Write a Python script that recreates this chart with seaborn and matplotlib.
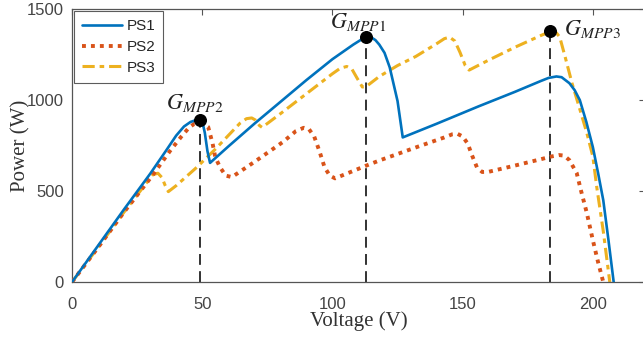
import matplotlib
matplotlib.use('Agg')
import matplotlib.pyplot as plt
import seaborn as sns
import pandas as pd

# PS1 (blue, solid)
ps1_v = [0, 10, 20, 30, 36, 40, 43, 45.5, 48, 50, 51, 52, 53, 60, 70, 80, 90, 100, 108, 111, 113, 115,
         116.5, 118, 120, 122, 125, 127, 140, 156, 170, 180, 183, 186, 188, 191, 193, 195, 197.5, 200,
         202, 204, 206, 208]
ps1_p = [0, 200, 400, 595, 720, 805, 855, 880, 892, 885, 820, 720, 655, 745, 870, 990, 1110, 1225, 1305,
         1332, 1346, 1344, 1330, 1305, 1260, 1180, 995, 795, 870, 965, 1045, 1105, 1122, 1130, 1126,
         1093, 1055, 1000, 880, 742, 600, 450, 230, 0]

# PS2 (red, dotted)
ps2_v = [0, 10, 20, 31, 37.6, 42, 45, 47, 49, 51, 52.3, 54, 55, 56.8, 59, 61.4, 70, 81, 86, 89, 91, 93,
         95, 97, 99, 101, 113, 118, 133, 143, 146, 148, 150, 152, 153.5, 155.5, 157.5, 160, 170, 180,
         184, 187, 189, 191, 193.8, 195.5, 197.7, 200, 202, 204]
ps2_p = [0, 190, 385, 588, 720, 800, 850, 870, 872, 865, 852, 760, 687, 632, 585, 577, 660, 770, 830,
         848, 840, 800, 720, 630, 585, 570, 640, 668, 745, 795, 812, 815, 800, 760, 700, 630, 605, 606,
         640, 675, 690, 698, 695, 670, 599, 500, 379, 230, 110, 0]

# PS3 (yellow, dash-dot)
ps3_v = [0, 10, 20, 31, 33, 34.5, 35.8, 37, 40, 48, 55, 64.5, 67, 69, 70.5, 72, 73, 80, 90, 100, 103,
         105.5, 107.5, 109.5, 111.5, 113, 118, 125, 132, 140, 143, 145, 147, 149, 151, 152.5, 160, 170,
         180, 184, 186, 187.3, 189.5, 192, 195, 197.7, 200, 201.5, 204, 206.5]
ps3_p = [0, 190, 385, 590, 598, 575, 530, 497, 530, 632, 730, 873, 898, 902, 890, 860, 850, 925, 1035,
         1145, 1175, 1185, 1170, 1120, 1072, 1075, 1130, 1190, 1240, 1310, 1338, 1346, 1325, 1262,
         1190, 1165, 1220, 1290, 1355, 1379, 1370, 1346, 1230, 1093, 950, 819, 690, 522, 280, 0]

# global maxima
mpp_names = ['$G_{MPP2}$', '$G_{MPP1}$', '$G_{MPP3}$']
mpp_v = [49, 112.8, 183.5]
mpp_p = [890, 1346, 1379]

x_ticks = [0, 50, 100, 150, 200]
y_ticks = [0, 500, 1000, 1500]

sns.set_theme(style='white')
plt.rcParams['font.family'] = ['Liberation Sans', 'DejaVu Sans']
plt.rcParams['mathtext.fontset'] = 'stix'

fig = plt.figure(figsize=(6.43, 3.39), dpi=100)
ax = fig.add_axes([0.112, 0.168, 0.891, 0.805])

blue = '#0072BD'
red = '#D95319'
yellow = '#EDB120'

df1 = pd.DataFrame({'v': ps1_v, 'p': ps1_p})
df2 = pd.DataFrame({'v': ps2_v, 'p': ps2_p})
df3 = pd.DataFrame({'v': ps3_v, 'p': ps3_p})

# dashed drop lines under the maxima
for v, p in zip(mpp_v, mpp_p):
    ax.plot([v, v], [0, p], color='#222222', lw=1.3, linestyle=(0, (6, 3.5)), zorder=1)

sns.lineplot(data=df1, x='v', y='p', sort=False, estimator=None, ax=ax,
             color=blue, lw=1.9, label='PS1', zorder=4)
sns.lineplot(data=df2, x='v', y='p', sort=False, estimator=None, ax=ax,
             color=red, lw=2.8, linestyle=(0, (1, 1.3)), label='PS2', zorder=3)
sns.lineplot(data=df3, x='v', y='p', sort=False, estimator=None, ax=ax,
             color=yellow, lw=2.2, linestyle=(0, (4, 1.6, 1.5, 1.6)), label='PS3', zorder=2)

ax.scatter(mpp_v, mpp_p, s=70, color='black', zorder=6)

# labels of the maxima
ax.text(mpp_v[0] - 2, mpp_p[0] + 35, mpp_names[0], ha='center', va='bottom', fontsize=16, color='#222222')
ax.text(mpp_v[1] - 3, mpp_p[1] + 22, mpp_names[1], ha='center', va='bottom', fontsize=16, color='#222222')
ax.text(mpp_v[2] + 5.5, mpp_p[2] + 10, mpp_names[2], ha='left', va='center', fontsize=16, color='#222222')

ax.set_xlim(0, 220)
ax.set_ylim(0, 1500)
ax.set_xticks(x_ticks)
ax.set_yticks(y_ticks)
ax.tick_params(direction='in', top=True, right=True, length=4, width=0.8,
               colors='#555555', labelsize=12)
ax.tick_params(axis='x', pad=11)
ax.tick_params(axis='y', pad=6)
ax.tick_params(labelcolor='#444444')
for s in ax.spines.values():
    s.set_color('#555555')
    s.set_linewidth(0.9)

ax.set_xlabel('Voltage (V)', family='Liberation Serif', fontsize=15, color='#333333', labelpad=-1)
ax.set_ylabel('Power (W)', family='Liberation Serif', fontsize=15, color='#333333', labelpad=-3)

leg = ax.legend(loc='upper left', fontsize=11, frameon=True, fancybox=False,
                handlelength=2.6, borderaxespad=0.1, borderpad=0.55, labelspacing=0.45,
                handletextpad=0.3)
leg.get_frame().set_edgecolor('#333333')
leg.get_frame().set_linewidth(0.8)

fig.savefig('out.png', dpi=100)
